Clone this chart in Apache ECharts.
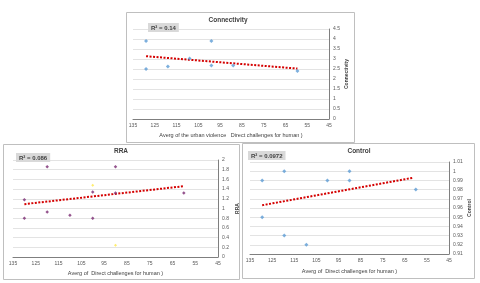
<!DOCTYPE html>
<html><head><meta charset="utf-8">
<script src="https://cdn.jsdelivr.net/npm/echarts@6/dist/echarts.min.js"></script>
<style>html,body{margin:0;padding:0;background:#fff}#c{width:480px;height:283px}</style>
</head><body><div id="c"></div>
<script>
// ---- data ----
const connX = [129, 129, 119, 109, 99, 99, 89, 59.5];
const connY = [3.9, 2.5, 2.63, 3.03, 3.9, 2.67, 2.67, 2.4];
const connTrendX = [129, 59.5];
const connTrendY = [3.14, 2.52];

const rraX = [130, 130, 120, 120, 110, 100, 100, 90, 90, 60];
const rraY = [1.18, 0.8, 1.86, 0.93, 0.86, 1.34, 0.8, 1.86, 1.32, 1.32];
const rraExtraX = [100, 90];
const rraExtraY = [1.48, 0.24];
const rraTrendX = [130, 60];
const rraTrendY = [1.09, 1.46];

const ctrlX = [129.5, 129.5, 119.5, 119.5, 109.5, 100, 90, 90, 60];
const ctrlY = [0.99, 0.95, 1.0, 0.93, 0.92, 0.99, 1.0, 0.99, 0.98];
const ctrlTrendX = [129.5, 61];
const ctrlTrendY = [0.963, 0.993];

const titles = ['Connectivity', 'RRA', 'Control'];
const r2Labels = ['R\u00B2 = 0.14', 'R\u00B2 = 0.086', 'R\u00B2 = 0.0972'];
const xNames = ['Averg of the urban violence   Direct challenges for human )',
                'Averg of  Direct challenges for human )',
                'Averg of  Direct challenges for human )'];
const yRanges = [[0, 4.5, 0.5], [0, 2, 0.2], [0.91, 1.01, 0.01]];

// ---- chart ----
const FONT = 'Liberation Sans';
const zip = (a, b) => a.map((v, i) => [v, b[i]]);
const grids = [
  {left: 133, right: 151, top: 29, bottom: 164},
  {left: 13, right: 262, top: 160, bottom: 26},
  {left: 250, right: 31, top: 162, bottom: 29}
];
const xNameGaps = [13, 13, 14];
const yNameGaps = [15, 17, 17];
const xAxes = grids.map((g, i) => ({
  gridIndex: i, type: 'value', inverse: true, min: 45, max: 135, interval: 10,
  name: xNames[i], nameLocation: 'middle', nameGap: xNameGaps[i],
  nameTextStyle: {fontSize: 5.5, color: '#404040', fontFamily: FONT},
  axisLine: {show: true, onZero: false, lineStyle: {color: '#7f7f7f', width: 1}},
  axisTick: {show: false},
  axisLabel: {fontSize: 5, color: '#595959', margin: 4, fontFamily: FONT},
  splitLine: {show: false}
}));
const yAxes = grids.map((g, i) => ({
  gridIndex: i, type: 'value', position: 'right',
  min: yRanges[i][0], max: yRanges[i][1], interval: yRanges[i][2],
  name: titles[i], nameLocation: 'middle', nameGap: yNameGaps[i], nameRotate: 90,
  nameTextStyle: {fontSize: 5, color: '#404040', fontFamily: FONT, fontWeight: 'bold'},
  axisLine: {show: true, lineStyle: {color: '#7f7f7f', width: 1}},
  axisTick: {show: false},
  axisLabel: {fontSize: 5, color: '#595959', margin: 4, fontFamily: FONT},
  splitLine: {show: true, lineStyle: {color: '#e3e3e3', width: 1}}
}));
const blue = '#5b9bd5';
const trendStyle = {color: '#d40000', width: 2, type: [2, 1.5]};
function trend(i, xs, ys) {
  return {type: 'line', xAxisIndex: i, yAxisIndex: i, data: zip(xs, ys),
    showSymbol: false, symbol: 'none', lineStyle: trendStyle, z: 3, silent: true};
}
function pts(i, xs, ys, color, size) {
  return {type: 'scatter', xAxisIndex: i, yAxisIndex: i, data: zip(xs, ys),
    symbol: 'diamond', symbolSize: size, itemStyle: {color: color}, z: 4};
}
const series = [
  pts(0, connX, connY, blue, 4),
  trend(0, connTrendX, connTrendY),
  pts(1, rraX, rraY, '#7a2a72', 3.5),
  pts(1, rraExtraX, rraExtraY, '#ffe94a', 3),
  trend(1, rraTrendX, rraTrendY),
  pts(2, ctrlX, ctrlY, blue, 4),
  trend(2, ctrlTrendX, ctrlTrendY)
];
const titleCenters = [[228, 17], [121, 148], [359, 148]];
const r2Pos = [[148, 23], [16, 153], [248, 151]];
const title = [];
titles.forEach((t, i) => title.push({
  text: t, left: titleCenters[i][0], top: titleCenters[i][1], textAlign: 'center',
  textStyle: {fontSize: 6.5, fontWeight: 'bold', color: '#404040', fontFamily: FONT}, padding: 0
}));
r2Labels.forEach((t, i) => title.push({
  text: t, left: r2Pos[i][0], top: r2Pos[i][1], backgroundColor: '#d9d9d9',
  padding: [2, 3, 1, 3],
  textStyle: {fontSize: 6, fontWeight: 'bold', color: '#404040', fontFamily: FONT}
}));
const boxes = [[126.5, 12.5, 228, 130], [3.5, 144.5, 236, 135], [242.5, 143.5, 232, 135]];
const graphic = boxes.map(b => ({
  type: 'rect', shape: {x: b[0], y: b[1], width: b[2], height: b[3]},
  style: {fill: 'none', stroke: '#bfbfbf', lineWidth: 1}, z: 0, silent: true
}));
const chart = echarts.init(document.getElementById('c'), null, {renderer: 'canvas'});
chart.setOption({
  animation: false, backgroundColor: '#fff',
  grid: grids, xAxis: xAxes, yAxis: yAxes, series: series, title: title, graphic: graphic
});
</script></body></html>
